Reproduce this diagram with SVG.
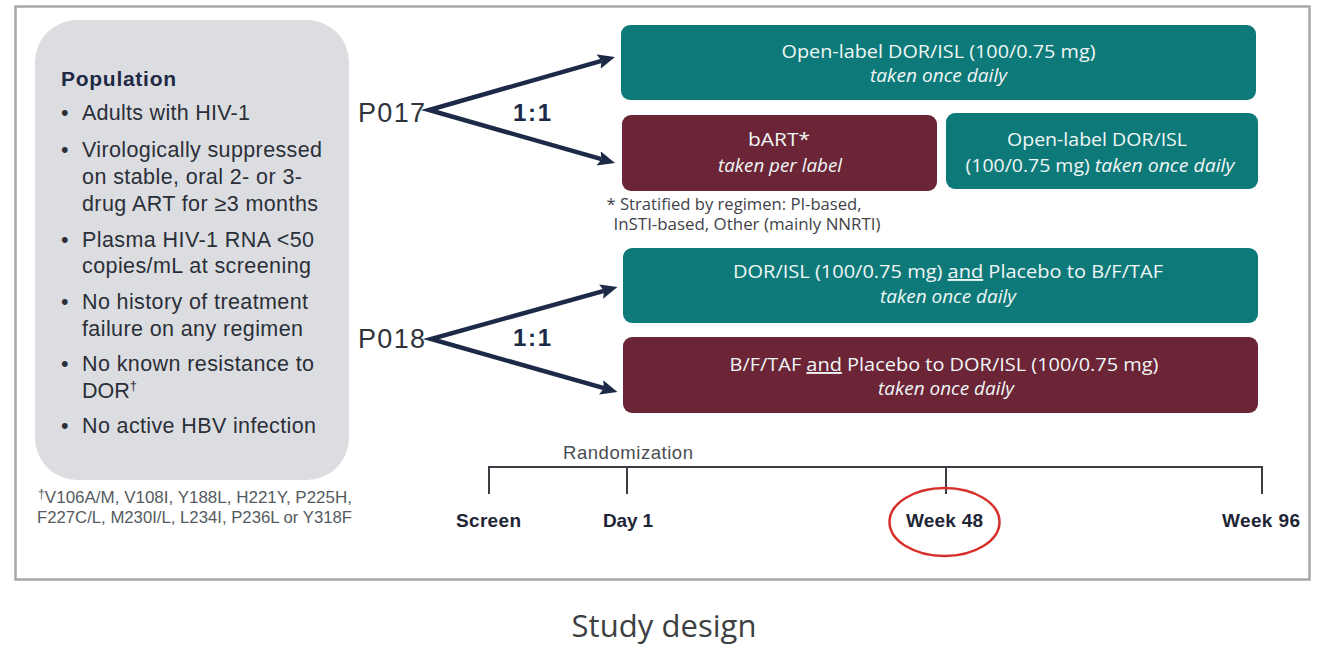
<svg xmlns="http://www.w3.org/2000/svg" width="1322" height="646" viewBox="0 0 1322 646">
  <style>
    .pop { font-family: "Liberation Sans", Arial, sans-serif; font-size: 21.5px; fill: #2b2f38; }
    .popHead { font-family: "Liberation Sans", Arial, sans-serif; font-size: 21px; font-weight: bold; fill: #1f2a44; }
    .foot { font-family: "Liberation Sans", Arial, sans-serif; font-size: 16.5px; fill: #555a60; }
    .trial { font-family: "Liberation Sans", Arial, sans-serif; font-size: 27px; fill: #30343a; }
    .ratio { font-family: "Liberation Sans", Arial, sans-serif; font-size: 24px; font-weight: bold; fill: #1c2a48; }
    .teal { fill: #0d7a79; }
    .maroon { fill: #6b2537; }
    .bx { font-family: "Open Sans", "Liberation Sans", sans-serif; font-size: 19px; fill: #f1f6f6; text-anchor: middle; }
    .it { font-style: italic; }
    .strat { font-family: "Open Sans", "Liberation Sans", sans-serif; font-size: 15.5px; fill: #3f4348; text-anchor: middle; }
    .tl { fill: none; stroke: #3b3d42; stroke-width: 2; }
    .tlab { font-family: "Liberation Sans", Arial, sans-serif; font-size: 19px; font-weight: bold; fill: #1e2535; text-anchor: middle; }
    .rand { font-family: "Liberation Sans", Arial, sans-serif; font-size: 18.5px; fill: #4a4d52; }
    .arm { fill: none; stroke: #1c2a48; stroke-width: 4.5; stroke-linejoin: miter; stroke-miterlimit: 20; }
  </style>
  <defs>
    <marker id="head" markerUnits="userSpaceOnUse" markerWidth="20" markerHeight="16" refX="3" refY="7.5" orient="auto-start-reverse" viewBox="0 0 20 16">
      <path d="M0,0 L17,7.5 L0,15 L3,7.5 z" fill="#1c2a48"/>
    </marker>
  </defs>

  <rect width="1322" height="646" fill="#ffffff"/>

  <!-- slide frame -->
  <rect x="15.5" y="6.5" width="1294" height="573" fill="#ffffff" stroke="#a8a8a8" stroke-width="2.5"/>

  <!-- population criteria panel -->
  <g id="population">
    <rect x="35" y="20" width="314" height="460" rx="42" ry="42" fill="#dcdde1"/>
    <text class="popHead" x="61" y="86" textLength="115">Population</text>
    <g class="pop">
      <text x="61" y="120">•</text><text x="82" y="120" textLength="168">Adults with HIV-1</text>
      <text x="61" y="157">•</text><text x="82" y="157" textLength="240">Virologically suppressed</text>
      <text x="82" y="184" textLength="220">on stable, oral 2- or 3-</text>
      <text x="82" y="211" textLength="236">drug ART for ≥3 months</text>
      <text x="61" y="247">•</text><text x="82" y="247" textLength="232">Plasma HIV-1 RNA &lt;50</text>
      <text x="82" y="273" textLength="229">copies/mL at screening</text>
      <text x="61" y="309">•</text><text x="82" y="309" textLength="226">No history of treatment</text>
      <text x="82" y="336" textLength="221">failure on any regimen</text>
      <text x="61" y="371">•</text><text x="82" y="371" textLength="232">No known resistance to</text>
      <text x="82" y="398">DOR<tspan font-size="13" dy="-8">†</tspan></text>
      <text x="61" y="433">•</text><text x="82" y="433" textLength="234">No active HBV infection</text>
    </g>
  </g>

  <!-- resistance mutation footnote -->
  <g id="mutations">
    <text class="foot" x="38" y="503" textLength="314" lengthAdjust="spacingAndGlyphs"><tspan font-size="12" dy="-5">†</tspan><tspan dy="5">V106A/M, V108I, Y188L, H221Y, P225H,</tspan></text>
    <text class="foot" x="37" y="523" textLength="315" lengthAdjust="spacingAndGlyphs">F227C/L, M230I/L, L234I, P236L or Y318F</text>
  </g>

  <!-- trial labels -->
  <g id="p017">
    <text class="trial" x="358" y="122" textLength="67">P017</text>
    <text class="ratio" x="513" y="121" textLength="38">1:1</text>
  </g>
  <g id="p018">
    <text class="trial" x="358" y="348" textLength="67">P018</text>
    <text class="ratio" x="513" y="346" textLength="38">1:1</text>
  </g>

  <!-- randomisation arrows -->
  <g id="connectors">
    <path class="arm" d="M601.5,60.8 L429,110 L601.5,159.2" marker-start="url(#head)" marker-end="url(#head)"/>
    <path class="arm" d="M604,290.8 L431,339 L604,388.2" marker-start="url(#head)" marker-end="url(#head)"/>
  </g>

  <!-- P017 arms -->
  <g id="p017-dorisl">
    <rect class="teal" x="621" y="25" width="635" height="75" rx="9"/>
    <text class="bx" x="938.5" y="58" textLength="314" lengthAdjust="spacingAndGlyphs">Open-label DOR/ISL (100/0.75 mg)</text>
    <text class="bx it" x="938.5" y="82" textLength="137" lengthAdjust="spacingAndGlyphs">taken once daily</text>
  </g>
  <g id="p017-bart">
    <rect class="maroon" x="622" y="115" width="315" height="76" rx="9"/>
    <text class="bx" x="779" y="146" textLength="62" lengthAdjust="spacingAndGlyphs">bART*</text>
    <text class="bx it" x="780" y="172" textLength="124" lengthAdjust="spacingAndGlyphs">taken per label</text>
  </g>
  <g id="p017-switch">
    <rect class="teal" x="946" y="113" width="312" height="76" rx="9"/>
    <text class="bx" x="1097" y="146" textLength="180" lengthAdjust="spacingAndGlyphs">Open-label DOR/ISL</text>
    <text class="bx" x="1100" y="172" textLength="269" lengthAdjust="spacingAndGlyphs">(100/0.75 mg) <tspan class="it">taken once daily</tspan></text>
  </g>
  <g id="stratification">
    <text class="strat" x="734" y="210" textLength="255" lengthAdjust="spacingAndGlyphs">* Stratified by regimen: PI-based,</text>
    <text class="strat" x="747" y="230" textLength="267" lengthAdjust="spacingAndGlyphs">InSTI-based, Other (mainly NNRTI)</text>
  </g>

  <!-- P018 arms -->
  <g id="p018-dorisl">
    <rect class="teal" x="623" y="248" width="635" height="75" rx="9"/>
    <text class="bx" x="948" y="278" textLength="430" lengthAdjust="spacingAndGlyphs">DOR/ISL (100/0.75 mg) <tspan text-decoration="underline">and</tspan> Placebo to B/F/TAF</text>
    <text class="bx it" x="948" y="303" textLength="136" lengthAdjust="spacingAndGlyphs">taken once daily</text>
  </g>
  <g id="p018-bftaf">
    <rect class="maroon" x="623" y="337" width="635" height="76" rx="9"/>
    <text class="bx" x="944" y="371" textLength="429" lengthAdjust="spacingAndGlyphs">B/F/TAF <tspan text-decoration="underline">and</tspan> Placebo to DOR/ISL (100/0.75 mg)</text>
    <text class="bx it" x="946" y="395" textLength="136" lengthAdjust="spacingAndGlyphs">taken once daily</text>
  </g>

  <!-- study timeline -->
  <g id="timeline">
    <path class="tl" d="M489,494 V467 H1262 V494 M627,467 V494 M946,467 V494"/>
    <text class="rand" x="563" y="459" textLength="130">Randomization</text>
    <text class="tlab" x="488.5" y="527" textLength="65">Screen</text>
    <text class="tlab" x="628" y="527" textLength="50">Day 1</text>
    <text class="tlab" x="944.5" y="527" textLength="77">Week 48</text>
    <text class="tlab" x="1261" y="527" textLength="78">Week 96</text>
    <ellipse cx="944.5" cy="522" rx="55" ry="34" fill="none" stroke="#d7302b" stroke-width="2.5"/>
  </g>

  <!-- caption -->
  <text x="664" y="637" font-family="'Open Sans', 'Liberation Sans', sans-serif" font-size="31" fill="#3d3f42" text-anchor="middle" textLength="185">Study design</text>
</svg>
